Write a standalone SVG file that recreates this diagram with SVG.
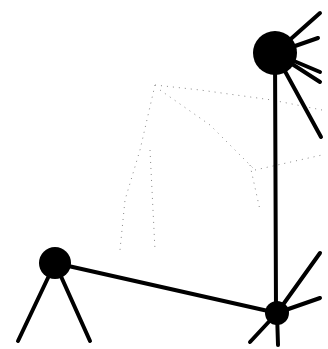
<svg xmlns="http://www.w3.org/2000/svg" width="328" height="349" viewBox="0 0 328 349">
<style>
.e{stroke:#000;stroke-width:4;stroke-linecap:round;fill:none}
.f{stroke:#888;stroke-width:1;stroke-dasharray:1 5;fill:none}
.n{fill:#000}
</style>
<rect width="328" height="349" fill="#fff"/>
<g id="faint">
<path class="f" d="M155 85 L200 90 L272 100 L322 110"/>
<path class="f" d="M155 85 L140 150 L125 200 L120 250"/>
<path class="f" d="M160 90 L210 125 L255 170"/>
<path class="f" d="M255 170 L322 155"/>
<path class="f" d="M150 150 L155 250"/>
<path class="f" d="M250 165 L260 210"/>
</g>
<g id="connectors">
<line class="e" x1="275" y1="53" x2="276" y2="312"/>
<line class="e" x1="275" y1="53" x2="320" y2="13"/>
<line class="e" x1="275" y1="53" x2="318" y2="38"/>
<line class="e" x1="275" y1="53" x2="320" y2="72"/>
<line class="e" x1="275" y1="53" x2="320" y2="82"/>
<line class="e" x1="275" y1="53" x2="321" y2="137"/>
<line class="e" x1="55" y1="263" x2="277" y2="313"/>
<line class="e" x1="55" y1="263" x2="18" y2="341"/>
<line class="e" x1="55" y1="263" x2="90" y2="341"/>
<line class="e" x1="277" y1="313" x2="320" y2="253"/>
<line class="e" x1="277" y1="313" x2="320" y2="298"/>
<line class="e" x1="277" y1="313" x2="250" y2="342"/>
<line class="e" x1="277" y1="313" x2="278" y2="345"/>
</g>
<g id="node-top"><circle class="n" cx="275" cy="53" r="22"/></g>
<g id="node-left"><circle class="n" cx="55" cy="263" r="16"/></g>
<g id="node-bottom"><circle class="n" cx="277" cy="313" r="12"/></g>
</svg>
